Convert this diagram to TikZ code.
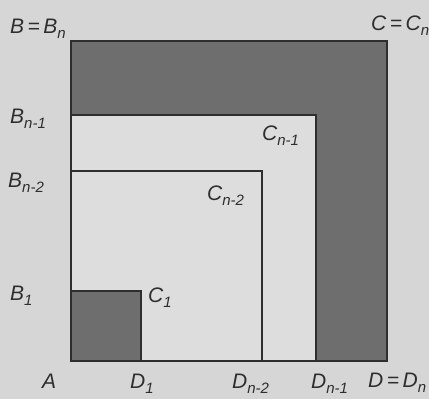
\documentclass[tikz,border=0pt]{standalone}
\usepackage{fontspec}
\setmainfont{Liberation Sans}
\definecolor{bgc}{HTML}{D6D6D6}
\definecolor{darkc}{HTML}{6E6E6E}
\definecolor{lightc}{HTML}{DDDDDD}
\definecolor{inkc}{HTML}{2E2E2E}
\newcommand\lsub[1]{\raisebox{-0.25em}{\fontsize{15}{15}\selectfont #1}}
\tikzset{
  lbl/.style={anchor=base west, inner sep=0pt, text=inkc, font=\fontsize{21}{22}\selectfont\itshape},
  edge/.style={draw=inkc, line width=2.2pt},
}
\begin{document}
\begin{tikzpicture}[x=1pt,y=-1pt]
\fill[bgc] (0,0) rectangle (429,399);
\useasboundingbox (0,0) rectangle (429,399);
% outer square (dark L region)
\fill[darkc] (71,41) rectangle (387,361);
% n-1 square
\fill[lightc] (71,115) rectangle (316,361);
% small square
\fill[darkc] (71,291) rectangle (141,361);
% outlines
\draw[edge] (71,41) rectangle (387,361);
\draw[edge] (71,115) rectangle (316,361);
\draw[edge] (71,171) rectangle (262,361);
\draw[edge] (71,291) rectangle (141,361);
% labels
\node[lbl] (lB) at (10,33) {B\,=\,B\lsub{n}};
\node[lbl] (lC) at (371,30) {C\,=\,C\lsub{n}};
\node[lbl] (lBn1) at (10,123) {B\lsub{n-1}};
\node[lbl] (lCn1) at (262,140) {C\lsub{n-1}};
\node[lbl] (lBn2) at (8,187) {B\lsub{n-2}};
\node[lbl] (lCn2) at (207,200) {C\lsub{n-2}};
\node[lbl] (lB1) at (10,300) {B\lsub{1}};
\node[lbl] (lC1) at (148,302) {C\lsub{1}};
\node[lbl] (lA) at (42,388) {A};
\node[lbl] (lD1) at (130,388) {D\lsub{1}};
\node[lbl] (lDn2) at (232,388) {D\lsub{n-2}};
\node[lbl] (lDn1) at (311,388) {D\lsub{n-1}};
\node[lbl] (lD) at (368,387) {D\,=\,D\lsub{n}};
\end{tikzpicture}
\end{document}
